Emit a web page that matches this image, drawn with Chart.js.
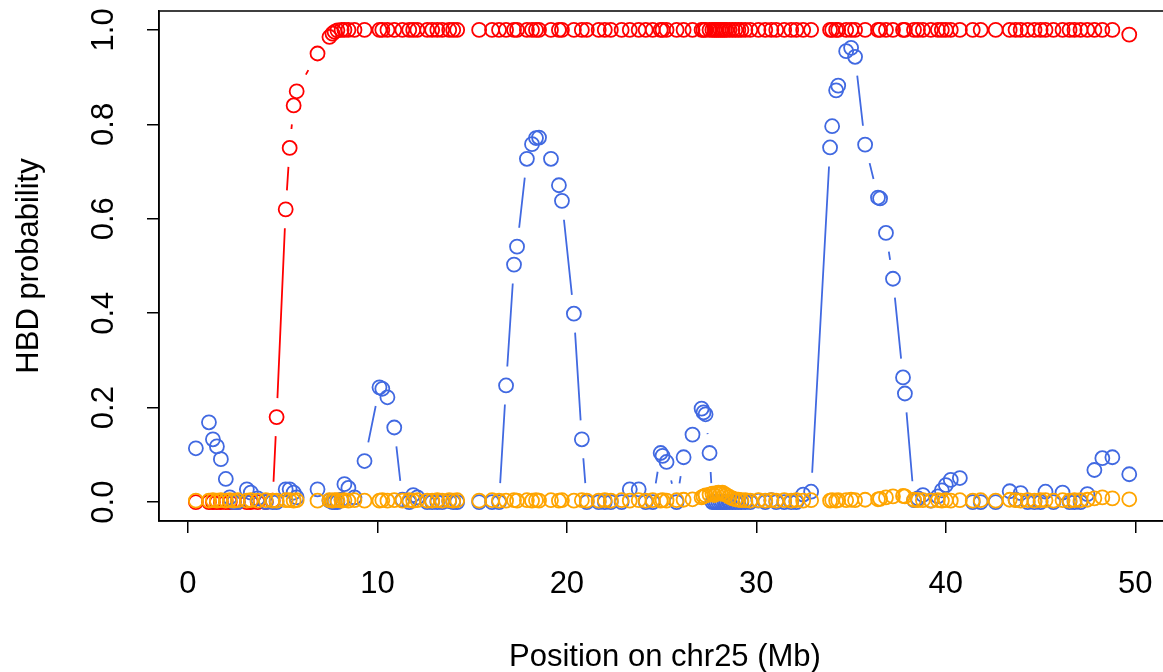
<!DOCTYPE html>
<html>
<head>
<meta charset="utf-8">
<script src="https://cdn.jsdelivr.net/npm/chart.js@4/dist/chart.umd.min.js"></script>
<style>
  html, body { margin: 0; padding: 0; background: #fff; overflow: hidden; }
  #wrap { width: 1163px; height: 672px; overflow: hidden; }
  canvas { display: block; }
</style>
</head>
<body>
<div id="wrap"><canvas id="hbd" width="1175" height="672"></canvas></div>
<script>
// marker positions on chr25 (Mb), shared by the three HBD classes
const positions = [
  0.42, 1.11, 1.32, 1.53, 1.74, 2.00, 2.21, 2.42, 2.63, 3.11,
  3.32, 3.68, 4.11, 4.47, 4.68, 5.16, 5.37, 5.58, 5.74, 6.84,
  7.47, 7.63, 7.74, 7.89, 8.11, 8.26, 8.47, 8.79, 9.32, 10.11,
  10.26, 10.53, 10.89, 11.32, 11.68, 11.89, 12.11, 12.63, 12.89, 13.16,
  13.42, 13.79, 14.00, 14.21, 15.37, 16.05, 16.42, 16.79, 17.21, 17.37,
  17.89, 18.16, 18.37, 18.53, 19.16, 19.58, 19.74, 20.37, 20.79, 21.05,
  21.68, 22.00, 22.32, 22.89, 23.32, 23.79, 24.16, 24.53, 24.95, 25.05,
  25.26, 25.79, 26.16, 26.63, 27.11, 27.21, 27.32, 27.53, 27.68, 27.79,
  27.89, 28.00, 28.11, 28.21, 28.32, 28.42, 28.58, 28.74, 28.89, 29.05,
  29.21, 29.42, 29.68, 30.11, 30.47, 30.79, 31.05, 31.47, 31.84, 32.11,
  32.47, 32.89, 33.89, 34.00, 34.21, 34.32, 34.74, 35.00, 35.21, 35.74,
  36.42, 36.53, 36.84, 37.21, 37.74, 37.84, 38.32, 38.53, 38.79, 39.21,
  39.58, 39.79, 40.00, 40.26, 40.74, 41.42, 41.84, 42.63, 43.37, 43.68,
  43.95, 44.32, 44.68, 45.00, 45.26, 45.68, 46.16, 46.53, 46.79, 47.11,
  47.47, 47.84, 48.26, 48.79, 49.68
];

const redProb = [
  0, 0, 0, 0, 0, 0, 0, 0, 0, 0,
  0, 0, 0, 0.003, 0.18, 0.62, 0.75, 0.84, 0.87, 0.95,
  0.985, 0.992, 0.996, 0.999, 1, 1, 1, 1, 1, 1,
  1, 1, 1, 1, 1, 1, 1, 1, 1, 1,
  1, 1, 1, 1, 1, 1, 1, 1, 1, 1,
  1, 1, 1, 1, 1, 1, 1, 1, 1, 1,
  1, 1, 1, 1, 1, 1, 1, 1, 1, 1,
  1, 1, 1, 1, 1, 1, 1, 1, 1, 1,
  1, 1, 1, 1, 1, 1, 1, 1, 1, 1,
  1, 1, 1, 1, 1, 1, 1, 1, 1, 1,
  1, 1, 1, 1, 1, 1, 1, 1, 1, 1,
  1, 1, 1, 1, 1, 1, 1, 1, 1, 1,
  1, 1, 1, 1, 1, 1, 1, 1, 1, 1,
  1, 1, 1, 1, 1, 1, 1, 1, 1, 1,
  1, 1, 1, 1, 0.99
];

const blueProb = [
  0.114, 0.169, 0.133, 0.118, 0.091, 0.049, 0.010, 0, 0, 0.027,
  0.020, 0.008, 0, 0, 0, 0.027, 0.027, 0.020, 0.010, 0.027,
  0.003, 0, 0, 0, 0.005, 0.038, 0.030, 0.010, 0.087, 0.243,
  0.240, 0.222, 0.158, 0.005, 0, 0.015, 0.010, 0, 0, 0,
  0, 0.002, 0, 0, 0, 0, 0, 0.247, 0.503, 0.541,
  0.727, 0.758, 0.771, 0.772, 0.727, 0.671, 0.638, 0.399, 0.133, 0,
  0, 0, 0, 0, 0.027, 0.027, 0, 0, 0.104, 0.098,
  0.085, 0, 0.095, 0.143, 0.198, 0.190, 0.186, 0.104, 0, 0,
  0, 0, 0, 0, 0, 0, 0, 0, 0, 0,
  0, 0, 0, 0.003, 0, 0.004, 0, 0, 0, 0,
  0.016, 0.022, 0.751, 0.796, 0.872, 0.882, 0.955, 0.962, 0.943, 0.757,
  0.645, 0.643, 0.570, 0.473, 0.264, 0.230, 0.004, 0.008, 0.015, 0.003,
  0.012, 0.025, 0.036, 0.047, 0.051, 0, 0, 0, 0.023, 0.005,
  0.019, 0, 0, 0, 0.022, 0, 0.020, 0, 0, 0,
  0.017, 0.068, 0.093, 0.095, 0.059
];

const orangeProb = [
  0.003, 0.003, 0.004, 0.003, 0.004, 0.003, 0.004, 0.003, 0.004, 0.003,
  0.004, 0.003, 0.004, 0.003, 0.003, 0.004, 0.004, 0.003, 0.004, 0.003,
  0.004, 0.003, 0.004, 0.004, 0.003, 0.004, 0.003, 0.004, 0.003, 0.003,
  0.004, 0.003, 0.004, 0.003, 0.004, 0.003, 0.004, 0.003, 0.003, 0.004,
  0.003, 0.004, 0.003, 0.004, 0.003, 0.004, 0.003, 0.003, 0.004, 0.003,
  0.004, 0.003, 0.004, 0.003, 0.004, 0.003, 0.004, 0.003, 0.004, 0.003,
  0.003, 0.004, 0.003, 0.004, 0.003, 0.004, 0.003, 0.004, 0.003, 0.004,
  0.003, 0.004, 0.005, 0.006, 0.010, 0.012, 0.014, 0.016, 0.018, 0.015,
  0.019, 0.020, 0.018, 0.020, 0.017, 0.015, 0.011, 0.008, 0.006, 0.005,
  0.004, 0.004, 0.003, 0.004, 0.003, 0.004, 0.003, 0.004, 0.003, 0.004,
  0.003, 0.004, 0.003, 0.004, 0.003, 0.004, 0.004, 0.005, 0.004, 0.005,
  0.006, 0.007, 0.010, 0.012, 0.013, 0.012, 0.005, 0.004, 0.004, 0.003,
  0.004, 0.003, 0.004, 0.003, 0.004, 0.003, 0.004, 0.003, 0.005, 0.004,
  0.003, 0.004, 0.003, 0.004, 0.004, 0.003, 0.004, 0.003, 0.004, 0.004,
  0.005, 0.008, 0.010, 0.008, 0.006
];

const xTicks = [0, 10, 20, 30, 40, 50];
const yTicks = [0, 0.2, 0.4, 0.6, 0.8, 1.0];
const xTitle = 'Position on chr25 (Mb)';
const yTitle = 'HBD probability';

const FONT = '"Liberation Sans", Arial, Helvetica, sans-serif';
const LABEL_PX = 31;

function toPoints(values) {
  return positions.map((x, i) => ({ x: x, y: values[i] }));
}

function series(label, values, color, order) {
  return {
    label: label,
    data: toPoints(values),
    showLine: false,
    borderColor: color,
    backgroundColor: 'rgba(0,0,0,0)',
    pointStyle: 'circle',
    pointRadius: 7,
    pointBorderWidth: 1.8,
    pointBackgroundColor: 'rgba(0,0,0,0)',
    order: order,
  };
}

// R type="b": segments between points, cut back so they stop short of each circle
const gappedLines = {
  id: 'gappedLines',
  beforeDatasetsDraw(chart) {
    const ctx = chart.ctx;
    const gap = 19;
    ctx.save();
    chart.data.datasets.forEach((ds, di) => {
      const pts = chart.getDatasetMeta(di).data;
      ctx.strokeStyle = ds.borderColor;
      ctx.lineWidth = 1.8;
      ctx.beginPath();
      for (let i = 1; i < pts.length; i++) {
        const a = pts[i - 1], b = pts[i];
        const dx = b.x - a.x, dy = b.y - a.y;
        const d = Math.hypot(dx, dy);
        if (d <= 2 * gap) continue;
        const ux = dx / d, uy = dy / d;
        ctx.moveTo(a.x + ux * gap, a.y + uy * gap);
        ctx.lineTo(b.x - ux * gap, b.y - uy * gap);
      }
      ctx.stroke();
    });
    ctx.restore();
  }
};

// box round the plot region, tick labels and axis titles (base R look)
const rFrame = {
  id: 'rFrame',
  afterDraw(chart) {
    const ctx = chart.ctx;
    const area = chart.chartArea;
    const xs = chart.scales.x;
    const ys = chart.scales.y;
    ctx.save();
    ctx.strokeStyle = '#000';
    ctx.lineWidth = 1.5;
    ctx.strokeRect(area.left, area.top, area.right - area.left, area.bottom - area.top);

    ctx.fillStyle = '#000';
    ctx.font = LABEL_PX + 'px ' + FONT;
    ctx.textAlign = 'center';
    ctx.textBaseline = 'middle';

    xTicks.forEach(v => {
      ctx.fillText(String(v), xs.getPixelForValue(v), 584);
    });

    yTicks.forEach(v => {
      ctx.save();
      ctx.translate(104, ys.getPixelForValue(v));
      ctx.rotate(-Math.PI / 2);
      ctx.fillText(v.toFixed(1), 0, 0);
      ctx.restore();
    });

    ctx.save();
    ctx.translate(29, (area.top + area.bottom) / 2);
    ctx.rotate(-Math.PI / 2);
    ctx.fillText(yTitle, 0, 0);
    ctx.restore();

    ctx.fillText(xTitle, 665, 657);
    ctx.restore();
  }
};

new Chart(document.getElementById('hbd'), {
  type: 'scatter',
  data: {
    datasets: [
      series('class 1', redProb, '#FF0000', 2),
      series('class 2', blueProb, '#4169E1', 1),
      series('class 3', orangeProb, '#FFA500', 0),
    ],
  },
  options: {
    responsive: false,
    animation: false,
    events: [],
    layout: { padding: { left: 0, right: 6, top: 11, bottom: 0 } },
    plugins: {
      legend: { display: false },
      tooltip: { enabled: false },
    },
    scales: {
      x: {
        type: 'linear',
        min: -1.526,
        max: 51.63,
        afterBuildTicks: s => { s.ticks = xTicks.map(v => ({ value: v })); },
        afterFit: s => { s.height = 151; },
        grid: {
          display: true,
          drawOnChartArea: false,
          drawTicks: true,
          tickLength: 12,
          color: '#000',
          lineWidth: 1.5,
        },
        border: { display: true, color: '#000', width: 1.5 },
        ticks: { display: false },
      },
      y: {
        type: 'linear',
        min: -0.04,
        max: 1.04,
        afterBuildTicks: s => { s.ticks = yTicks.map(v => ({ value: v })); },
        afterFit: s => { s.width = 159; },
        grid: {
          display: true,
          drawOnChartArea: false,
          drawTicks: true,
          tickLength: 12,
          color: '#000',
          lineWidth: 1.5,
        },
        border: { display: true, color: '#000', width: 1.5 },
        ticks: { display: false },
      },
    },
  },
  plugins: [gappedLines, rFrame],
});
</script>
</body>
</html>
